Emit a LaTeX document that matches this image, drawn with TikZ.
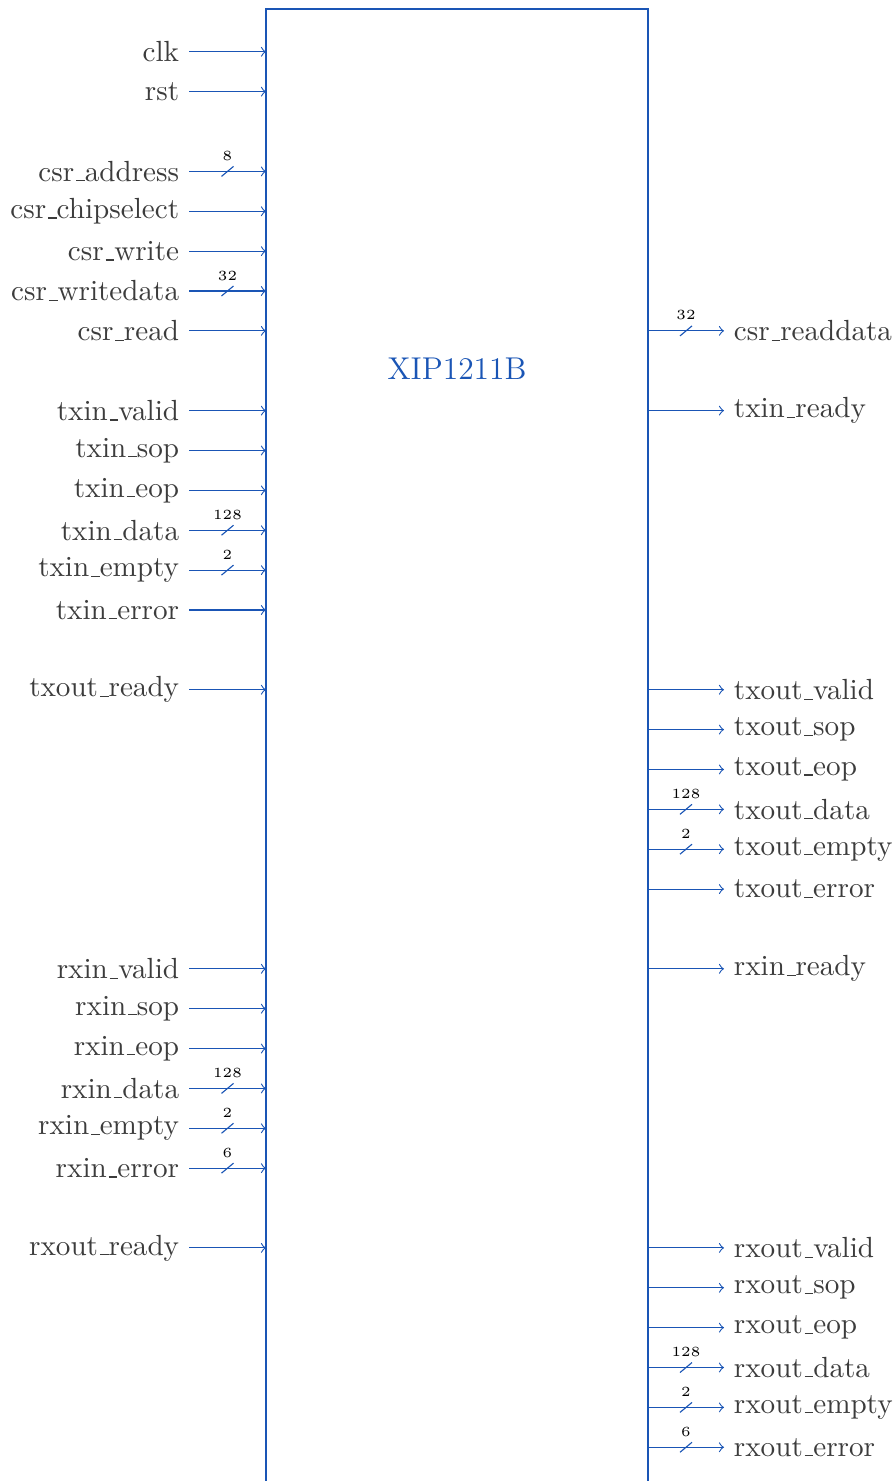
\documentclass[tikz,border=0pt]{standalone}
\definecolor{sigblue}{HTML}{1A55B5}
\definecolor{txtgray}{HTML}{3C3C3C}
\newcommand{\usline}{\leavevmode\kern.06em\vbox{\hrule width.3em}}
\tikzset{
  sig/.style={draw=sigblue,line width=0.4pt,->},
  slash/.style={draw=sigblue,line width=0.4pt},
  lbl/.style={text=txtgray,font=\fontsize{10.4}{12.5}\selectfont},
  wlbl/.style={text=black,font=\tiny,inner sep=0pt},
  blockbox/.style={draw=sigblue,line width=0.75pt},
  titlelbl/.style={text=sigblue,font=\fontsize{11.25}{13.5}\selectfont}
}
\begin{document}
\begin{tikzpicture}[x=0.01254cm,y=-0.01254cm]
\useasboundingbox (0,0) rectangle (895,1481);
\clip (0,0) rectangle (895,1481);
\draw[blockbox] (266,9) rectangle (648,1520);
\node[titlelbl] (title) at (457,369) {XIP1211B};
% left plain inputs
\foreach \i/\n in {1/clk,2/rst,5/csr\usline chipselect,6/csr\usline write,8/csr\usline read,10/txin\usline valid,11/txin\usline sop,12/txin\usline eop,15/txin\usline error,17/txout\usline ready,24/rxin\usline valid,25/rxin\usline sop,26/rxin\usline eop,31/rxout\usline ready}{
  \pgfmathsetmacro\yy{51.8+39.87*(\i-1)}
  \node[lbl,anchor=east] (L\i) at (189,\yy) {\n};
  \coordinate (LB\i) at (266,\yy);
  \draw[sig] (L\i.east) -- (LB\i);
}
% left bus inputs
\foreach \i/\n/\w in {4/csr\usline address/8,7/csr\usline writedata/32,13/txin\usline data/128,14/txin\usline empty/2,27/rxin\usline data/128,28/rxin\usline empty/2,29/rxin\usline error/6}{
  \pgfmathsetmacro\yy{51.8+39.87*(\i-1)}
  \node[lbl,anchor=east] (L\i) at (189,\yy) {\n};
  \coordinate (LB\i) at (266,\yy);
  \coordinate (LM\i) at (227.5,\yy);
  \draw[sig] (L\i.east) -- (LB\i);
  \draw[slash] (LM\i) ++(-6,5) -- ++(12,-10);
  \node[wlbl] (LW\i) at (227.5,\yy-15.5) {\w};
}
% right plain outputs
\foreach \i/\n in {10/txin\usline ready,17/txout\usline valid,18/txout\usline sop,19/txout\usline eop,22/txout\usline error,24/rxin\usline ready,31/rxout\usline valid,32/rxout\usline sop,33/rxout\usline eop}{
  \pgfmathsetmacro\yy{51.8+39.87*(\i-1)}
  \node[lbl,anchor=west] (R\i) at (724,\yy) {\n};
  \coordinate (RB\i) at (648,\yy);
  \draw[sig] (RB\i) -- (R\i.west);
}
% right bus outputs
\foreach \i/\n/\w in {8/csr\usline readdata/32,20/txout\usline data/128,21/txout\usline empty/2,34/rxout\usline data/128,35/rxout\usline empty/2,36/rxout\usline error/6}{
  \pgfmathsetmacro\yy{51.8+39.87*(\i-1)}
  \node[lbl,anchor=west] (R\i) at (724,\yy) {\n};
  \coordinate (RB\i) at (648,\yy);
  \coordinate (RM\i) at (686,\yy);
  \draw[sig] (RB\i) -- (R\i.west);
  \draw[slash] (RM\i) ++(-6,5) -- ++(12,-10);
  \node[wlbl] (RW\i) at (686,\yy-15.5) {\w};
}
\end{tikzpicture}
\end{document}
